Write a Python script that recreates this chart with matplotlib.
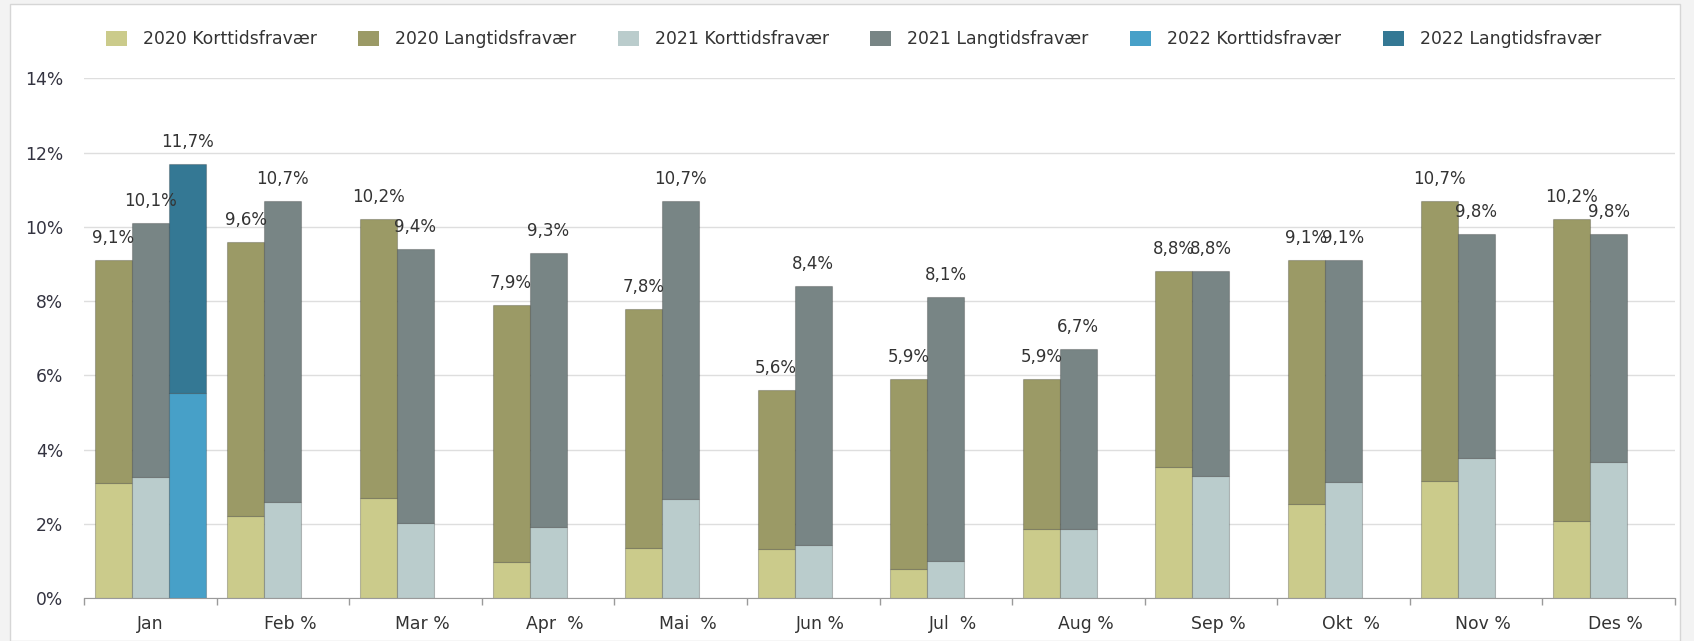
import numpy as np
import matplotlib
matplotlib.use("Agg")
import matplotlib.pyplot as plt
import matplotlib.patches as mpatches
import matplotlib.transforms as mtrans

# ---------------- data ----------------
months = ["Jan", "Feb", "Mar", "Apr", "Mai", "Jun", "Jul", "Aug", "Sep", "Okt", "Nov", "Des"]
month_labels = ["Jan", "Feb %", "Mar %", "Apr  %", "Mai  %", "Jun %", "Jul  %",
                "Aug %", "Sep %", "Okt  %", "Nov %", "Des %"]
series_names = ["2020 Korttidsfravær", "2020 Langtidsfravær",
                "2021 Korttidsfravær", "2021 Langtidsfravær",
                "2022 Korttidsfravær", "2022 Langtidsfravær"]

total_2020 = [9.1, 9.6, 10.2, 7.9, 7.8, 5.6, 5.9, 5.9, 8.8, 9.1, 10.7, 10.2]
kort_2020 = [3.11, 2.21, 2.69, 0.97, 1.36, 1.32, 0.79, 1.86, 3.54, 2.55, 3.15, 2.09]
total_2021 = [10.1, 10.7, 9.4, 9.3, 10.7, 8.4, 8.1, 6.7, 8.8, 9.1, 9.8, 9.8]
kort_2021 = [3.27, 2.59, 2.03, 1.91, 2.67, 1.43, 1.00, 1.86, 3.29, 3.13, 3.79, 3.66]
total_2022 = [11.7]
kort_2022 = [5.53]

yticks = [0, 2, 4, 6, 8, 10, 12, 14]

colors = ["#cbcb8b", "#9b9a66", "#bacccc", "#788585", "#47a0c8", "#347894"]

# ---------------- figure ----------------
W, H = 1694, 641
fig = plt.figure(figsize=(W / 100, H / 100), dpi=100)
fig.patch.set_facecolor("#f3f3f3")
panel = mpatches.Rectangle((10 / W, 0), (1680 - 10) / W, (H - 4) / H,
                           transform=fig.transFigure, facecolor="white",
                           edgecolor="#d6d6d6", lw=1, zorder=-10)
fig.patches.append(panel)

ax = fig.add_axes([84 / W, (H - 598.3) / H, (1675 - 84) / W, (598.3 - 78.3) / H])
ax.set_facecolor("none")

x = np.arange(len(months))
w = 0.279
edge = (0, 0, 0, 0.22)

lang_2020 = np.array(total_2020) - np.array(kort_2020)
lang_2021 = np.array(total_2021) - np.array(kort_2021)
lang_2022 = np.array(total_2022) - np.array(kort_2022)

ax.bar(x - w, kort_2020, w, color=colors[0], edgecolor=edge, lw=0.8)
ax.bar(x - w, lang_2020, w, bottom=kort_2020, color=colors[1], edgecolor=edge, lw=0.8)
ax.bar(x, kort_2021, w, color=colors[2], edgecolor=edge, lw=0.8)
ax.bar(x, lang_2021, w, bottom=kort_2021, color=colors[3], edgecolor=edge, lw=0.8)
x22 = x[:len(total_2022)] + w
ax.bar(x22, kort_2022, w, color=colors[4], edgecolor=edge, lw=0.8)
ax.bar(x22, lang_2022, w, bottom=kort_2022, color=colors[5], edgecolor=edge, lw=0.8)

def fmt(v):
    return f"{v:.1f}".replace(".", ",") + "%"

for xs, tots in [(x - w, total_2020), (x, total_2021), (x22, total_2022)]:
    for xi, t in zip(xs, tots):
        ax.annotate(fmt(t), (xi, t), xytext=(0, 15.8), textcoords="offset points",
                    ha="center", va="center", fontsize=12, color="#333333")

# axes styling
ax.set_xlim(-0.5, len(months) - 0.5)
ax.set_ylim(0, 14)
ax.set_yticks(yticks)
ax.set_yticklabels([f"{v}%" for v in yticks])
ax.tick_params(axis="y", length=0, pad=15, labelsize=12.3, labelcolor="#333340")
ax.yaxis.grid(True, color="#dedede", lw=1)
ax.set_axisbelow(True)

ax.set_xticks(x)
ax.set_xticklabels(month_labels)
ax.set_xticks(np.arange(-0.5, len(months), 1), minor=True)
ax.tick_params(axis="x", which="major", length=0, pad=12, labelsize=12.4, labelcolor="#333333")
ax.tick_params(axis="x", which="minor", length=5, width=1, color="#9a9a9a")
shift = mtrans.ScaledTranslation(7 / 100, 0, fig.dpi_scale_trans)
for lbl, txt in zip(ax.get_xticklabels(), month_labels):
    if "%" in txt:
        lbl.set_transform(lbl.get_transform() + shift)

for s in ["top", "right", "left"]:
    ax.spines[s].set_visible(False)
ax.spines["bottom"].set_color("#9a9a9a")

handles = [mpatches.Patch(facecolor=c, edgecolor="none") for c in colors]
fig.legend(handles, series_names, loc="center left",
           bbox_to_anchor=(106 / W, 1 - 39.5 / H), ncol=6, frameon=False,
           fontsize=12.4, handlelength=1.22, handleheight=1.0, handletextpad=0.93,
           columnspacing=2.4, borderpad=0, borderaxespad=0, labelcolor="#333333")

fig.savefig("out.png", dpi=100, facecolor=fig.get_facecolor())
